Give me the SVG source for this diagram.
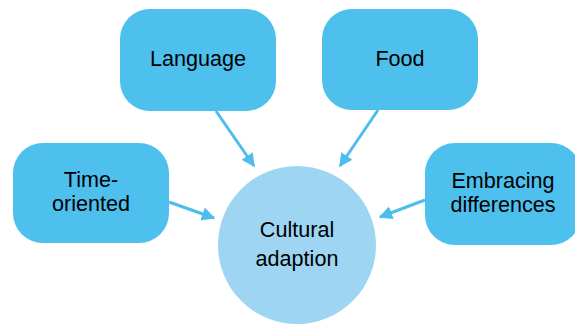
<svg xmlns="http://www.w3.org/2000/svg" width="575" height="324" viewBox="0 0 575 324">
  <style>
    .box { fill: #4DC0EE; }
    .hub { fill: #9DD5F2; }
    .lbl { font-family: "Liberation Sans", Arial, Helvetica, sans-serif; font-size: 21.6px; fill: #000; text-anchor: middle; }
    .edge { stroke: #4DBDEB; stroke-width: 3; fill: none; marker-end: url(#arrow); }
  </style>
  <defs>
    <marker id="arrow" viewBox="0 0 10 10" refX="9" refY="5" markerWidth="4.5" markerHeight="4.5" orient="auto" markerUnits="strokeWidth">
      <path d="M0,0 L10,5 L0,10 Z" fill="#4DBDEB"/>
    </marker>
  </defs>

  <g id="connectors">
    <line class="edge" x1="216" y1="111" x2="254" y2="166"/>
    <line class="edge" x1="378" y1="110" x2="340" y2="166"/>
    <line class="edge" x1="169" y1="202" x2="214" y2="218"/>
    <line class="edge" x1="425" y1="200" x2="380" y2="217"/>
  </g>

  <g id="language">
    <rect class="box" x="120" y="9" width="156" height="102" rx="30"/>
    <text class="lbl" x="198" y="66">Language</text>
  </g>

  <g id="food">
    <rect class="box" x="322" y="9" width="156" height="101" rx="30"/>
    <text class="lbl" x="400" y="66">Food</text>
  </g>

  <g id="time-oriented">
    <rect class="box" x="13" y="143" width="156" height="100" rx="30"/>
    <text class="lbl" x="91" y="187">Time-</text>
    <text class="lbl" x="91" y="211">oriented</text>
  </g>

  <g id="embracing-differences">
    <rect class="box" x="425" y="143" width="156" height="102" rx="30"/>
    <text class="lbl" x="503" y="188">Embracing</text>
    <text class="lbl" x="503" y="212">differences</text>
  </g>

  <g id="cultural-adaption">
    <circle class="hub" cx="297" cy="245" r="79"/>
    <text class="lbl" x="297" y="237">Cultural</text>
    <text class="lbl" x="297" y="266">adaption</text>
  </g>
</svg>
